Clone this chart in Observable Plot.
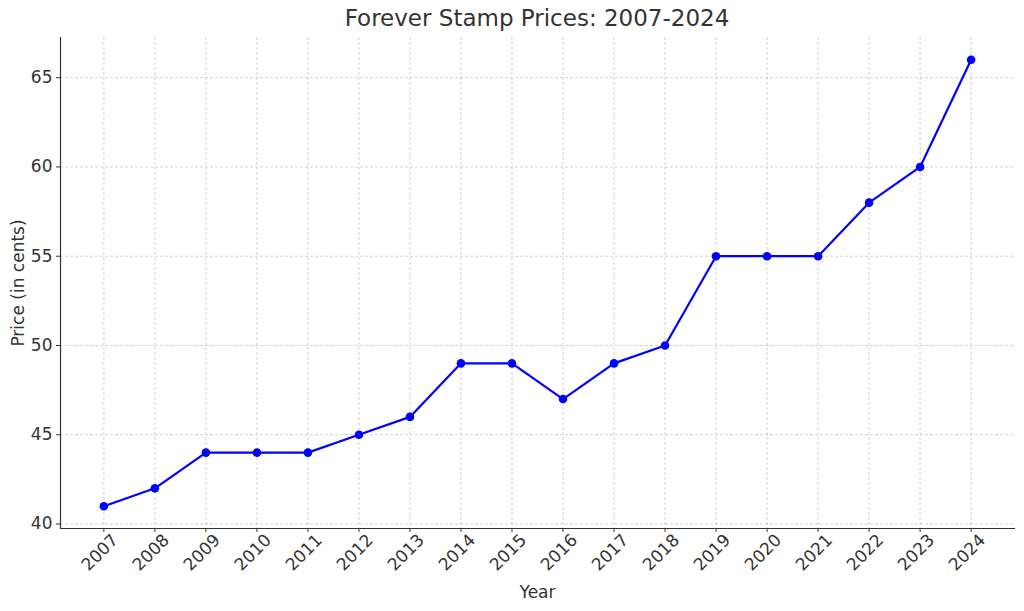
<!DOCTYPE html>
<html><head><meta charset="utf-8">
<script src="https://cdn.jsdelivr.net/npm/d3@7"></script>
<script src="https://cdn.jsdelivr.net/npm/@observablehq/plot@0.6"></script>
<style>
body{margin:0;background:#fff;font-family:"DejaVu Sans",sans-serif;}
#wrap{position:relative;width:1024px;height:611px;}
#title{position:absolute;left:60px;width:954px;top:5px;text-align:center;font-size:23px;color:#333;font-family:"DejaVu Sans";}
svg text{font-family:"DejaVu Sans" !important;}
</style></head>
<body><div id="wrap"><div id="title">Forever Stamp Prices: 2007-2024</div><div id="chart"></div></div>
<script>
const years = [2007,2008,2009,2010,2011,2012,2013,2014,2015,2016,2017,2018,2019,2020,2021,2022,2023,2024];
const prices = [41,42,44,44,44,45,46,49,49,47,49,50,55,55,55,58,60,66];
const yTicks = [40,45,50,55,60,65];
const data = years.map((y,i)=>({year:y, price:prices[i]}));

const chart = Plot.plot({
  width:1024, height:611,
  marginLeft:60, marginRight:10, marginTop:37, marginBottom:83,
  style:{fontFamily:"DejaVu Sans", fontSize:"17px", color:"#333", background:"#fff"},
  x:{type:"linear", domain:[2006.15,2024.85], axis:null},
  y:{type:"linear", domain:[39.75,67.25], axis:null},
  marks:[
    Plot.ruleX(years,{x:d=>d, stroke:"#b0b0b0", strokeOpacity:0.7, strokeWidth:0.8, strokeDasharray:"3,2"}),
    Plot.ruleY(yTicks,{y:d=>d, stroke:"#b0b0b0", strokeOpacity:0.7, strokeWidth:0.8, strokeDasharray:"3,2"}),
    Plot.axisY({ticks:yTicks, tickSize:4, tickPadding:4, fontSize:17, fontFamily:"DejaVu Sans", label:null, stroke:"#333"}),
    Plot.axisX({ticks:years, tickSize:4, tickFormat:()=>"", label:null, stroke:"#333"}),
    Plot.frame({anchor:"left", stroke:"#333", strokeWidth:1.2}),
    Plot.frame({anchor:"bottom", stroke:"#333", strokeWidth:1.2}),
    Plot.text(years,{x:d=>d, text:d=>String(d), frameAnchor:"bottom", dy:28, rotate:-45, textAnchor:"middle", fontSize:17, fontFamily:"DejaVu Sans", fill:"#333"}),
    Plot.text(["Year"],{frameAnchor:"bottom", dy:69, text:d=>d, fontSize:17, fontFamily:"DejaVu Sans", fill:"#333"}),
    Plot.text(["Price (in cents)"],{frameAnchor:"left", dx:-42, rotate:-90, textAnchor:"middle", text:d=>d, fontSize:17, fontFamily:"DejaVu Sans", fill:"#333"}),
    Plot.line(data,{x:"year", y:"price", stroke:"#0000ff", strokeWidth:2.2}),
    Plot.dot(data,{x:"year", y:"price", fill:"#0000ff", r:4.3})
  ]
});
document.getElementById("chart").appendChild(chart);
</script></body></html>
